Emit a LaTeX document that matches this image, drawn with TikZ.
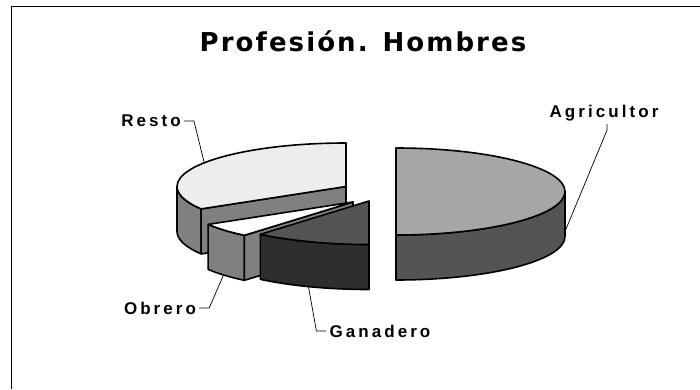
\documentclass[tikz,border=0pt]{standalone}
\usepackage{fontspec}
\setmainfont{Liberation Sans}
\newfontfamily\titlefont[LetterSpace=8]{DejaVu Sans}
\newfontfamily\labelfont[LetterSpace=18]{Liberation Sans}
\usepackage{tikz}
\usetikzlibrary{positioning}

\definecolor{agritop}{gray}{0.65}
\definecolor{agriside}{gray}{0.33}
\definecolor{restotop}{gray}{0.93}
\definecolor{midside}{gray}{0.5}
\definecolor{gantop}{gray}{0.33}
\definecolor{ganside}{gray}{0.18}

\tikzset{
  slice/.style={draw=black, line width=1.6pt, line join=round},
  leader/.style={draw=black, line width=0.7pt},
  pielabel/.style={font=\labelfont\bfseries\fontsize{17}{20}\selectfont, inner sep=3pt}
}

\begin{document}
\begin{tikzpicture}[x=1pt, y=1pt]

  \newcommand\RX{169pt}
  \newcommand\RY{43.5pt}
  \newcommand\RXY{169pt and 43.5pt}
  \newcommand\DP{45pt}

  \useasboundingbox (0,0) rectangle (700,389);
  \fill[white] (0,0) rectangle (700,389);
  \draw[line width=1pt] (11,0) -- (11,382) -- (700,382);

  \node (title) at (363,348) {\titlefont\bfseries\fontsize{26}{30}\selectfont Profesión. Hombres};

  %% centres of the exploded slices
  \coordinate (R) at (346,202.5);
  \coordinate (O) at (353,187);
  \coordinate (G) at (369,188);
  \coordinate (A) at (396,197.5);
  \path (R) ++(0,-\DP) coordinate (Rb);
  \path (O) ++(0,-\DP) coordinate (Ob);

  %% Resto
  \filldraw[slice, fill=midside] (R) ++(180:\RXY) arc[start angle=180, end angle=211, x radius=\RX, y radius=\RY]
    -- ++(0,-\DP) arc[start angle=211, end angle=180, x radius=\RX, y radius=\RY] -- cycle;
  \filldraw[slice, fill=midside] (R) -- ++(211:\RXY) -- ++(0,-\DP) -- (Rb) -- cycle;
  \filldraw[slice, fill=restotop] (R) -- ++(90:\RXY) arc[start angle=90, end angle=211, x radius=\RX, y radius=\RY] -- cycle;

  %% Obrero
  \filldraw[slice, fill=midside] (O) ++(211:\RXY) arc[start angle=211, end angle=230, x radius=\RX, y radius=\RY]
    -- ++(0,-\DP) arc[start angle=230, end angle=211, x radius=\RX, y radius=\RY] -- cycle;
  \filldraw[slice, fill=midside] (O) -- ++(230:\RXY) -- ++(0,-\DP) -- (Ob) -- cycle;
  \filldraw[slice, fill=white] (O) -- ++(211:\RXY) arc[start angle=211, end angle=230, x radius=\RX, y radius=\RY] -- cycle;

  %% Ganadero
  \filldraw[slice, fill=ganside] (G) ++(230:\RXY) arc[start angle=230, end angle=270, x radius=\RX, y radius=\RY]
    -- ++(0,-\DP) arc[start angle=270, end angle=230, x radius=\RX, y radius=\RY] -- cycle;
  \filldraw[slice, fill=gantop] (G) -- ++(230:\RXY) arc[start angle=230, end angle=270, x radius=\RX, y radius=\RY] -- cycle;

  %% Agricultor
  \filldraw[slice, fill=agriside] (A) ++(270:\RXY) arc[start angle=270, end angle=360, x radius=\RX, y radius=\RY]
    -- ++(0,-\DP) arc[start angle=360, end angle=270, x radius=\RX, y radius=\RY] -- cycle;
  \filldraw[slice, fill=agritop] (A) -- ++(-90:\RXY) arc[start angle=-90, end angle=90, x radius=\RX, y radius=\RY] -- cycle;

  %% leader ends on the pie
  \path (R) ++(147:\RXY) coordinate (restopt);
  \path (Ob) ++(220:\RXY) coordinate (obrpt);
  \path (G) ++(0,-\DP) ++(249:\RXY) coordinate (ganpt);
  \path (A) ++(0:\RXY) ++(0,-40) coordinate (agript);

  \node[pielabel] (restolbl) at (151,268) {Resto};
  \node[pielabel] (agrilbl) at (604,276) {Agricultor};
  \node[pielabel] (obrlbl) at (160,81) {Obrero};
  \node[pielabel] (ganlbl) at (380,58) {Ganadero};

  \draw[leader] (restolbl.east) -- ++(10,0) -- (restopt);
  \draw[leader] ([xshift=3pt]agrilbl.south) -- ++(0,-6) -- (agript);
  \draw[leader] (obrlbl.east) -- ++(10,0) -- (obrpt);
  \draw[leader] (ganlbl.west) -- ++(-10,0) -- (ganpt);

\end{tikzpicture}
\end{document}
